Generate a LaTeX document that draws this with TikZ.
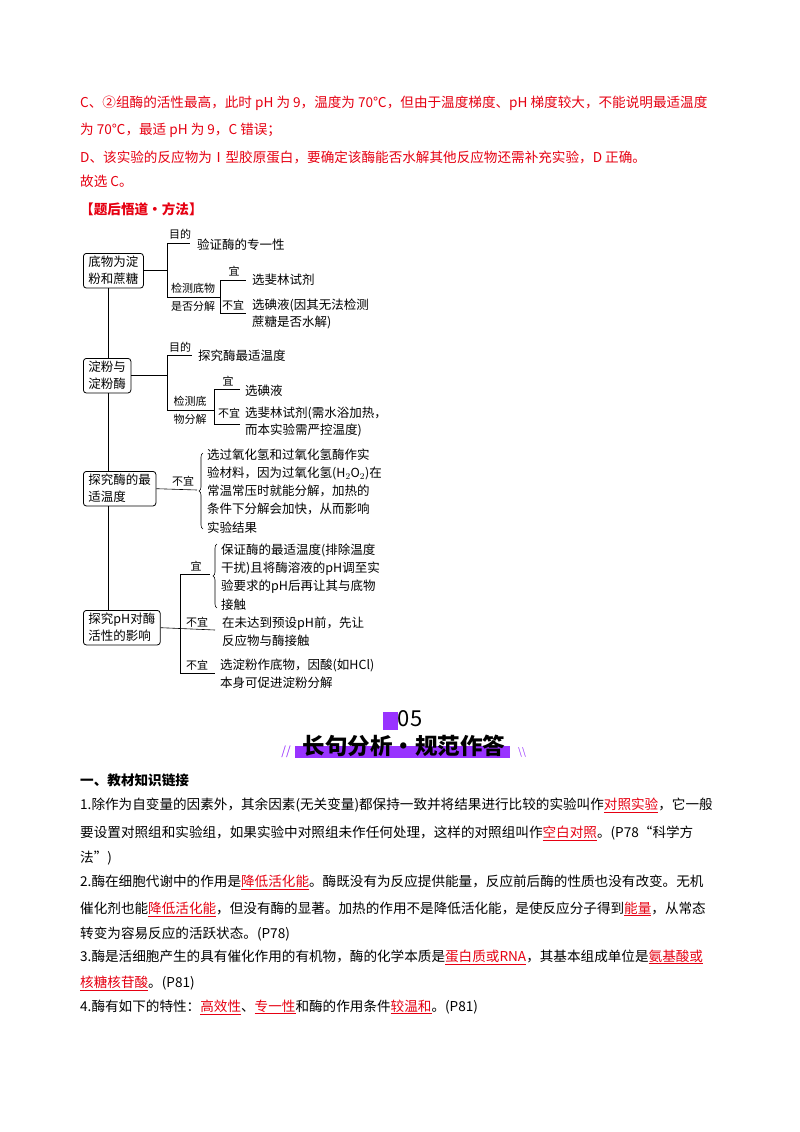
\documentclass[tikz,border=0pt]{standalone}
\usepackage{fontspec}
\setmainfont{Noto Sans CJK SC}
\usetikzlibrary{decorations.pathreplacing}
\definecolor{rd}{RGB}{230,0,18}
\definecolor{pu}{RGB}{153,51,255}
\newcommand{\rl}[1]{\textcolor{rd}{\underline{#1}}}
\tikzset{
 body/.style={anchor=west,inner sep=0pt,font=\fontsize{13.6}{16}\selectfont},
 rbody/.style={body,text=rd},
 tbox/.style={draw,rounded corners=3pt,line width=0.8pt,align=left,inner xsep=5pt,inner ysep=3pt,font=\fontsize{12.5}{17}\selectfont,anchor=north west},
 tl/.style={anchor=west,inner sep=0pt,font=\fontsize{12.5}{17.5}\selectfont,align=left},
 sl/.style={inner sep=0pt,font=\fontsize{11}{12}\selectfont},
 ln/.style={line width=0.6pt},
 br/.style={ln,decorate,decoration={brace,amplitude=4pt,mirror}}
}
\begin{document}
\begin{tikzpicture}[x=1pt,y=-1pt]
\useasboundingbox (0,0) rectangle (800,1132);
\fill[white] (0,0) rectangle (800,1132);
% top red text
\node[rbody] (t1) at (80,103) {C、②组酶的活性最高，此时 pH 为 9，温度为 70℃，但由于温度梯度、pH 梯度较大，不能说明最适温度};
\node[rbody] (t2) at (80,130) {为 70℃，最适 pH 为 9，C 错误；};
\node[rbody] (t3) at (80,157) {D、该实验的反应物为Ⅰ型胶原蛋白，要确定该酶能否水解其他反应物还需补充实验，D 正确。};
\node[rbody] (t4) at (80,181) {故选 C。};
\node[rbody,font=\fontsize{13.6}{16}\bfseries] (t5) at (80,209) {【题后悟道·方法】};
% tree
\node[tbox] (b1) at (83,253) {底物为淀\\粉和蔗糖};
\node[tbox] (b2) at (83,358) {淀粉与\\淀粉酶};
\node[tbox] (b3) at (83,471) {探究酶的最\\适温度};
\node[tbox] (b4) at (83,610) {探究pH对酶\\活性的影响};
\draw[ln] (b1.south -| 108,0) -- (b2.north -| 108,0);
\draw[ln] (b2.south -| 108,0) -- (b3.north -| 108,0);
\draw[ln] (b3.south -| 108,0) -- (b4.north -| 108,0);
% b1
\coordinate (a1) at (167,243); \coordinate (a2) at (167,297);
\draw[ln] (b1.east) -- (b1.east -| a1);
\draw[ln] (a1) -- (a2);
\draw[ln] (a1) -- (190,243);
\node[sl] (m1) at (180,234) {目的};
\node[tl] (x1) at (197,245) {验证酶的专一性};
\draw[ln] (a2) -- (220,297);
\node[sl] (m2) at (193,288) {检测底物};
\node[sl] (m3) at (193,306) {是否分解};
\coordinate (c1) at (220,280); \coordinate (c2) at (220,313);
\draw[ln] (c1) -- (c2);
\draw[ln] (c1) -- (246,280);
\draw[ln] (c2) -- (246,313);
\node[sl] (m4) at (234,271) {宜};
\node[sl] (m5) at (233,305) {不宜};
\node[tl] (x2) at (252,280) {选斐林试剂};
\node[tl] (x3) at (252,314) {选碘液(因其无法检测\\蔗糖是否水解)};
% b2
\coordinate (d1) at (167,355); \coordinate (d2) at (167,410);
\draw[ln] (b2.east) -- (b2.east -| d1);
\draw[ln] (d1) -- (d2);
\draw[ln] (d1) -- (192,355);
\node[sl] (m6) at (180,347) {目的};
\node[tl] (x4) at (198,356) {探究酶最适温度};
\draw[ln] (d2) -- (214,410);
\node[sl] (m7) at (190,401) {检测底};
\node[sl] (m8) at (190,419) {物分解};
\coordinate (e1) at (214,389); \coordinate (e2) at (214,424);
\draw[ln] (e1) -- (e2);
\draw[ln] (e1) -- (240,389);
\draw[ln] (e2) -- (240,424);
\node[sl] (m9) at (228,381) {宜};
\node[sl] (m10) at (229,413) {不宜};
\node[tl] (x5) at (245,391) {选碘液};
\node[tl] (x6) at (245,422) {选斐林试剂(需水浴加热，\\而本实验需严控温度)};
% b3
\draw[ln] (b3.east) -- (197,490);
\node[sl] (m11) at (183,481) {不宜};
\draw[br] (203,453) -- (203,529);
\node[tl,font=\fontsize{12.5}{18.2}\selectfont] (x7) at (207,491) {选过氧化氢和过氧化氢酶作实\\验材料，因为过氧化氢(H$_2$O$_2$)在\\常温常压时就能分解，加热的\\条件下分解会加快，从而影响\\实验结果};
% b4
\coordinate (f1) at (180,574); \coordinate (f2) at (180,673);
\draw[ln] (b4.east) -- (215,630);
\draw[ln] (f1) -- (f2);
\draw[ln] (f1) -- (210,574);
\draw[ln] (f2) -- (215,673);
\node[sl] (m12) at (196,566) {宜};
\node[sl] (m13) at (197,622) {不宜};
\node[sl] (m14) at (197,665) {不宜};
\draw[br] (217,544) -- (217,608);
\node[tl,font=\fontsize{12.5}{18.2}\selectfont] (x8) at (221,577) {保证酶的最适温度(排除温度\\干扰)且将酶溶液的pH调至实\\验要求的pH后再让其与底物\\接触};
\node[tl] (x9) at (222,632) {在未达到预设pH前，先让\\反应物与酶接触};
\node[tl] (x10) at (220,674) {选淀粉作底物，因酸(如HCl)\\本身可促进淀粉分解};
% banner
\fill[pu] (383,712) rectangle (398,730);
\node[inner sep=0pt,font=\fontsize{22}{22}\selectfont] (n05) at (410,719) {05};
\fill[pu] (295,746) rectangle (510,758);
\node[inner sep=0pt,font=\fontsize{22.5}{23}\bfseries] (ttl) at (404,746) {长句分析•规范作答};
\node[inner sep=0pt,text=pu,font=\fontsize{12}{12}\itshape] (sl1) at (286,752) {//};
\node[inner sep=0pt,text=pu,font=\fontsize{12}{12}] (sl2) at (522,752) {\textbackslash\textbackslash};
% bottom text
\node[body,font=\fontsize{13.6}{16}\bfseries] (h1) at (80,780) {一、教材知识链接};
\node[body] (p1) at (80,805) {1.除作为自变量的因素外，其余因素(无关变量)都保持一致并将结果进行比较的实验叫作\rl{对照实验}，它一般};
\node[body] (p2) at (80,833) {要设置对照组和实验组，如果实验中对照组未作任何处理，这样的对照组叫作\rl{空白对照}。(P78“科学方};
\node[body] (p3) at (80,858) {法”)};
\node[body] (p4) at (80,882) {2.酶在细胞代谢中的作用是\rl{降低活化能}。酶既没有为反应提供能量，反应前后酶的性质也没有改变。无机};
\node[body] (p5) at (80,909) {催化剂也能\rl{降低活化能}，但没有酶的显著。加热的作用不是降低活化能，是使反应分子得到\rl{能量}，从常态};
\node[body] (p6) at (80,934) {转变为容易反应的活跃状态。(P78)};
\node[body] (p7) at (80,957) {3.酶是活细胞产生的具有催化作用的有机物，酶的化学本质是\rl{蛋白质或RNA}，其基本组成单位是\rl{氨基酸或}};
\node[body] (p8) at (80,983) {\rl{核糖核苷酸}。(P81)};
\node[body] (p9) at (80,1007) {4.酶有如下的特性：\rl{高效性}、\rl{专一性}和酶的作用条件\rl{较温和}。(P81)};
\end{tikzpicture}
\end{document}
